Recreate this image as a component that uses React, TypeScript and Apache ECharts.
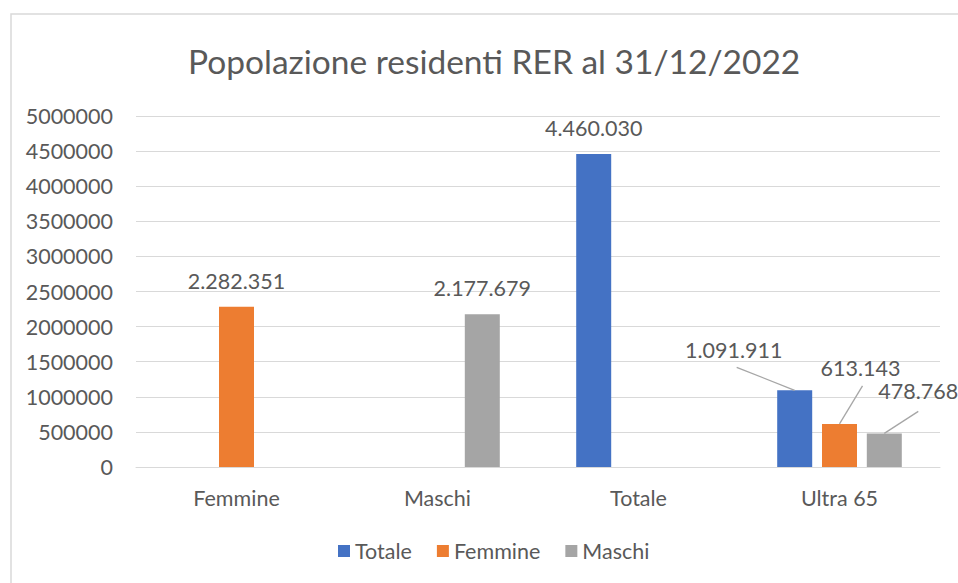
import React, { useEffect, useRef } from "react";
import * as echarts from "echarts";

const categories = ["Femmine", "Maschi", "Totale", "Ultra 65"];
const totale = [null, null, 4460030, 1091911];
const femmine = [2282351, null, null, 613143];
const maschi = [null, 2177679, null, 478768];
const yTicks = { min: 0, max: 5000000, interval: 500000 };
const title = "Popolazione residenti RER al 31/12/2022";

const FONT = "Lato";
const GRAY = "#595959";
const FS = 21.5;

const fmt = (v: number) => String(v).replace(/\B(?=(\d{3})+(?!\d))/g, ".");

// label offset from bar top centre, and leader start offset from label centre
const ultraOffsets: [number, number, number, number][] = [
  [-61, -40, 3, 17],
  [21, -56, 2, 18],
  [34, -42, 0, 20],
];

function buildSeries(idx: number, name: string, values: (number | null)[], color: string) {
  const off = ultraOffsets[idx];
  return {
    name,
    type: "bar",
    barWidth: 35,
    barGap: "28%",
    itemStyle: { color },
    data: values,
    label: {
      show: true,
      position: "top",
      distance: 15,
      color: GRAY,
      fontFamily: FONT,
      fontSize: FS,
      formatter: (p: any) => (p.value == null ? "" : fmt(p.value)),
    },
    labelLayout: (p: any) => {
      if (p.dataIndex !== 3) return {};
      const cx = p.rect.x + p.rect.width / 2;
      const top = p.rect.y;
      return {
        x: cx + off[0],
        y: top + off[1],
        align: "center",
        verticalAlign: "middle",
      };
    },
  };
}

const border = {
  type: "rect",
  shape: { x: 11, y: 14, width: 1000, height: 1000 },
  style: { fill: "none", stroke: "#d9d9d9", lineWidth: 1.5 },
  silent: true,
};

export default function App() {
  const ref = useRef<HTMLDivElement>(null);
  useEffect(() => {
    const chart = echarts.init(ref.current!, null, { renderer: "svg" });
    chart.setOption({
      animation: false,
      backgroundColor: "#ffffff",
      title: {
        text: title,
        left: 183,
        top: 39,
        textStyle: { fontFamily: FONT, fontSize: 33.5, fontWeight: "normal", color: GRAY },
      },
      graphic: [border],
      legend: {
        bottom: 16,
        left: 333,
        icon: "rect",
        itemWidth: 12,
        itemHeight: 12,
        itemGap: 25,
        textStyle: { fontFamily: FONT, fontSize: FS, color: GRAY },
        data: ["Totale", "Femmine", "Maschi"],
      },
      grid: { left: 136, right: 18, top: 116, bottom: 116 },
      xAxis: {
        type: "category",
        data: categories,
        axisLine: { lineStyle: { color: "#d9d9d9" } },
        axisTick: { show: false },
        axisLabel: { fontFamily: FONT, fontSize: FS, color: GRAY, margin: 20 },
      },
      yAxis: {
        type: "value",
        min: yTicks.min,
        max: yTicks.max,
        interval: yTicks.interval,
        axisLine: { show: false },
        axisTick: { show: false },
        splitLine: { lineStyle: { color: "#d9d9d9" } },
        axisLabel: {
          fontFamily: FONT,
          fontSize: FS,
          color: GRAY,
          margin: 23,
          formatter: (v: number) => String(v),
        },
      },
      series: [
        buildSeries(0, "Totale", totale, "#4472C4"),
        buildSeries(1, "Femmine", femmine, "#ED7D31"),
        buildSeries(2, "Maschi", maschi, "#A5A5A5"),
      ],
    });

    // leader lines for the "Ultra 65" labels, from the library's bar layout
    const lines: any[] = [];
    try {
      const model = (chart as any).getModel();
      for (let i = 0; i < 3; i++) {
        const lay = model.getSeriesByIndex(i).getData().getItemLayout(3);
        if (!lay) continue;
        const cx = lay.x + lay.width / 2;
        const top = Math.min(lay.y, lay.y + lay.height);
        const off = ultraOffsets[i];
        const lx = cx + off[0];
        const ly = top + off[1];
        lines.push({
          type: "line",
          shape: { x1: lx + off[2], y1: ly + off[3], x2: cx, y2: top },
          style: { stroke: "#a6a6a6", lineWidth: 1.3 },
          silent: true,
          z: 10,
        });
      }
    } catch (e) {
      // ignore
    }
    chart.setOption({ graphic: [border, ...lines] });
    return () => chart.dispose();
  }, []);
  return (
    <div
      ref={ref}
      style={{ position: "fixed", left: 0, top: 0, width: 958, height: 583 }}
    />
  );
}
